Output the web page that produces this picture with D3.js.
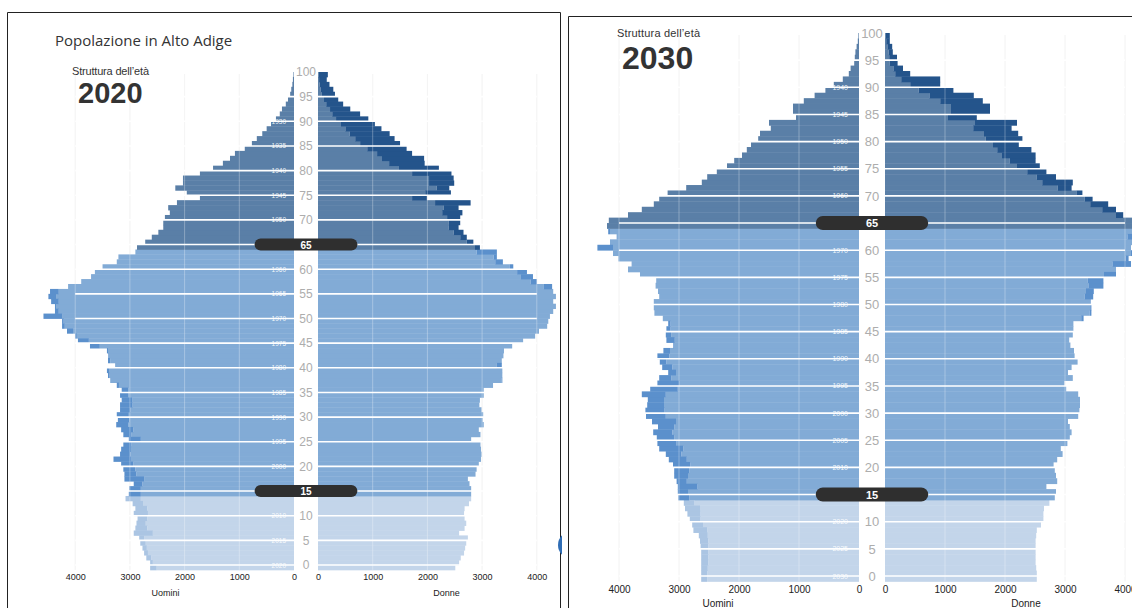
<!DOCTYPE html>
<html>
<head>
<meta charset="utf-8">
<script src="https://cdn.jsdelivr.net/npm/d3@7"></script>
<style>
  body { margin: 0; background: #fff; }
  svg { display: block; font-family: "Liberation Sans", Arial, sans-serif; }
</style>
</head>
<body>
<svg id="chart" width="1132" height="608"></svg>
<script>
// Ages 0..100, every array below is indexed by age
const AGES = d3.range(0, 101);

const MEN_2020 = [
  2630, 2630, 2700, 2740, 2770, 2810, 2830, 2930, 2900, 2880,
  2860, 2930, 2900, 2950, 3080, 3020, 3010, 2930, 3100, 3100,
  3120, 3160, 3300, 3180, 3160, 3120, 3020, 3120, 3160, 3250,
  3220, 3240, 3180, 3180, 3150, 3180, 3150, 3240, 3360, 3400,
  3420, 3270, 3400, 3400, 3420, 3730, 3950, 4000, 4150, 4240,
  4240, 4580, 4370, 4370, 4440, 4490, 4460, 4130, 3890, 3710,
  3640, 3500, 3240, 3210, 2900, 2870, 2720, 2600, 2480, 2390,
  2390, 2360, 2270, 2300, 2140, 1720, 1960, 2170, 2030, 2030,
  1720, 1480, 1300, 1170, 1080, 900, 770, 680, 580, 500,
  420, 330, 260, 220, 150, 110, 70, 50, 30, 20,
  10
];
const WOMEN_2020 = [
  2510, 2580, 2610, 2670, 2690, 2710, 2740, 2580, 2680, 2710,
  2680, 2670, 2680, 2760, 2800, 2800, 2800, 2770, 2740, 2880,
  2900, 2940, 2980, 2990, 2980, 2970, 2800, 2970, 2940, 3030,
  3010, 3020, 2990, 2950, 2960, 3030, 3030, 3200, 3370, 3370,
  3370, 3360, 3360, 3390, 3400, 3550, 3750, 3970, 4040, 4190,
  4210, 4240, 4300, 4350, 4300, 4350, 4300, 4280, 4000, 3930,
  3820, 3570, 3380, 3270, 3270, 2960, 2840, 2720, 2660, 2570,
  2600, 2600, 2640, 2570, 2790, 1990, 2430, 2400, 2490, 2480,
  2440, 2210, 1950, 1940, 1720, 1620, 1500, 1400, 1310, 1160,
  1040, 920, 770, 590, 460, 370, 310, 280, 210, 160,
  180
];
const MEN_2030 = [
  2630, 2630, 2630, 2630, 2630, 2630, 2640, 2650, 2670, 2760,
  2780, 2820, 2860, 2900, 2920, 3010, 3020, 3020, 3040, 3080,
  3080, 3100, 3170, 3220, 3330, 3360, 3370, 3430, 3350, 3450,
  3550, 3560, 3530, 3520, 3620, 3480, 3360, 3330, 3180, 3280,
  3320, 3360, 3260, 3100, 3210, 3220, 3210, 3180, 3270, 3410,
  3420, 3420, 3330, 3350, 3390, 3380, 3650, 3850, 3790, 4010,
  4100, 4360, 4150, 4040, 4180, 4200, 4170, 3850, 3620, 3420,
  3330, 3190, 2880, 2620, 2530, 2370, 2200, 2080, 1950, 1870,
  1800, 1680, 1650, 1470, 1500, 1050, 1100, 1100, 920, 740,
  560, 420, 270, 170, 140, 80, 70, 60, 40, 20,
  10
];
const WOMEN_2030 = [
  2530, 2530, 2520, 2510, 2510, 2510, 2510, 2510, 2520, 2530,
  2600, 2640, 2640, 2650, 2740, 2830, 2850, 2690, 2870, 2850,
  2830, 2810, 2870, 2960, 2930, 3040, 3080, 3110, 3080, 3050,
  3220, 3240, 3250, 3250, 3220, 3020, 2990, 3130, 3050, 3110,
  3210, 3160, 3150, 3090, 3070, 3130, 3140, 3140, 3310, 3440,
  3440, 3430, 3470, 3480, 3640, 3640, 3850, 3850, 4100, 4060,
  4120, 4100, 4150, 4120, 4150, 4300, 4250, 3970, 3850, 3720,
  3460, 3290, 3110, 3130, 2850, 2690, 2580, 2510, 2510, 2440,
  2230, 2290, 2220, 2110, 2200, 1530, 1750, 1750, 1630, 1480,
  1140, 920, 920, 420, 300, 210, 200, 130, 120, 80,
  80
];

const AGE_TICKS = d3.range(0, 101, 5);
const LINE_AGES = d3.range(0, 100, 5);
const VALUE_TICKS = [0, 1000, 2000, 3000, 4000];
const GRID_VALUES = [1000, 2000, 3000, 4000];
const GROUP_LIMITS = [15, 65];

// base colour and "surplus" colour for each age group
const COLORS = {
  old:   { base: '#5a7fa7', extra: '#24548b' },
  work:  { base: '#82abd6', extra: '#5b90cc' },
  young: { base: '#c3d5ea', extra: '#abc5e3' }
};
function groupColor(age) {
  if (age >= 65) return COLORS.old;
  if (age >= 15) return COLORS.work;
  return COLORS.young;
}

const svg = d3.select('#chart');

function drawPanel(p) {
  const g = svg.append('g');

  const xm = d3.scaleLinear().domain([0, 4000]).range([p.menZero, p.menZero - 4000 * p.unit]);
  const xw = d3.scaleLinear().domain([0, 4000]).range([p.womenZero, p.womenZero + 4000 * p.unit]);
  const y = d3.scaleLinear().domain([0, 100]).range([p.bottom, p.top]);
  const band = y(0) - y(1);
  const mid = (p.menZero + p.womenZero) / 2;

  // faint background grid
  [xm, xw].forEach(sc => {
    g.selectAll(null).data(GRID_VALUES).join('line')
      .attr('x1', d => sc(d)).attr('x2', d => sc(d))
      .attr('y1', y(100) + 2).attr('y2', y(-1))
      .attr('stroke', '#f0f0f0').attr('stroke-width', 1);
  });

  const rows = AGES.map(a => ({ age: a, m: p.men[a], w: p.women[a] }));

  // bars: common part in base colour, surplus over the other sex darker
  const sides = [
    { sc: xm, own: d => d.m, other: d => d.w },
    { sc: xw, own: d => d.w, other: d => d.m }
  ];
  sides.forEach(s => {
    g.selectAll(null).data(rows).join('rect')
      .attr('x', d => Math.min(s.sc(0), s.sc(Math.min(s.own(d), s.other(d)))))
      .attr('width', d => Math.abs(s.sc(Math.min(s.own(d), s.other(d))) - s.sc(0)))
      .attr('y', d => y(d.age))
      .attr('height', band + 0.4)
      .attr('fill', d => groupColor(d.age).base);
    g.selectAll(null).data(rows.filter(d => s.own(d) > s.other(d))).join('rect')
      .attr('x', d => Math.min(s.sc(s.other(d)), s.sc(s.own(d))))
      .attr('width', d => Math.abs(s.sc(s.own(d)) - s.sc(s.other(d))))
      .attr('y', d => y(d.age))
      .attr('height', band + 0.4)
      .attr('fill', d => groupColor(d.age).extra);
  });

  // white separators every 5 years
  g.selectAll(null).data(LINE_AGES).join('line')
    .attr('x1', xm(4000)).attr('x2', xw(4000))
    .attr('y1', d => y(d)).attr('y2', d => y(d))
    .attr('stroke', '#fff').attr('stroke-width', 1.6);

  // grid over the bars
  [xm, xw].forEach(sc => {
    g.selectAll(null).data(GRID_VALUES).join('line')
      .attr('x1', d => sc(d)).attr('x2', d => sc(d))
      .attr('y1', y(100) + 2).attr('y2', y(-1))
      .attr('stroke', '#fff').attr('stroke-opacity', 0.3).attr('stroke-width', 1);
  });

  // central white column
  g.append('rect')
    .attr('x', p.menZero).attr('width', p.womenZero - p.menZero)
    .attr('y', y(100) - 10).attr('height', y(-1) - y(100) + 12)
    .attr('fill', '#fff');

  // birth year labels
  g.selectAll(null).data(AGE_TICKS).join('text')
    .attr('x', p.menZero - p.yearGap)
    .attr('y', d => y(d) + 2.5)
    .attr('text-anchor', 'end')
    .attr('fill', '#fff')
    .attr('fill-opacity', 0.9)
    .style('font-size', p.yearFont + 'px')
    .text(d => p.year - d);

  // age labels
  g.selectAll(null).data(AGE_TICKS).join('text')
    .attr('x', mid)
    .attr('y', d => y(d) + p.ageFont * 0.36)
    .attr('text-anchor', 'middle')
    .attr('fill', '#adadad')
    .style('font-size', p.ageFont + 'px')
    .text(d => d);

  // group pills
  GROUP_LIMITS.forEach(a => {
    g.append('rect')
      .attr('x', xm(720)).attr('width', xw(720) - xm(720))
      .attr('y', y(a) - p.pillH / 2).attr('height', p.pillH)
      .attr('rx', p.pillH / 2).attr('fill', '#2f2f2f');
    g.append('text')
      .attr('x', mid).attr('y', y(a) + 4)
      .attr('text-anchor', 'middle')
      .attr('fill', '#fff').attr('font-weight', 'bold')
      .style('font-size', p.pillFont + 'px')
      .text(a);
  });

  // value axes
  [xm, xw].forEach(sc => {
    g.append('g')
      .attr('transform', `translate(0,${p.tickY})`)
      .call(d3.axisBottom(sc).tickValues(VALUE_TICKS).tickFormat(d3.format('d')).tickSize(0).tickPadding(0))
      .call(ax => ax.select('.domain').remove())
      .selectAll('text')
      .attr('fill', '#222')
      .style('font-family', '"Liberation Sans", Arial, sans-serif')
      .style('font-size', p.tickFont + 'px');
  });

  g.append('text').attr('x', xm(2350)).attr('y', p.sexY)
    .attr('text-anchor', 'middle').attr('fill', '#222')
    .style('font-size', p.tickFont + 'px').text('Uomini');
  g.append('text').attr('x', xw(2350)).attr('y', p.sexY)
    .attr('text-anchor', 'middle').attr('fill', '#222')
    .style('font-size', p.tickFont + 'px').text('Donne');

  // header
  g.append('text').attr('x', p.subX).attr('y', p.subY)
    .attr('fill', '#333').style('font-size', '11px')
    .attr('textLength', p.subLen).text('Struttura dell\u2019et\u00e0');
  g.append('text').attr('x', p.yearX).attr('y', p.yearY)
    .attr('fill', '#333').attr('font-weight', 'bold')
    .style('font-size', p.bigFont + 'px').text(p.year);
}

// frames
svg.append('path').attr('d', 'M7.5,608 V12.5 H560.5 V608')
  .attr('fill', 'none').attr('stroke', '#222').attr('stroke-width', 1);
svg.append('path').attr('d', 'M568.5,608 V16.5 H1132')
  .attr('fill', 'none').attr('stroke', '#222').attr('stroke-width', 1);

svg.append('text')
  .attr('x', 55).attr('y', 46)
  .attr('fill', '#333')
  .style('font-family', '"Open Sans", sans-serif')
  .style('font-size', '15px')
  .text('Popolazione in Alto Adige');

drawPanel({
  year: 2020, men: MEN_2020, women: WOMEN_2020,
  menZero: 294, womenZero: 318, unit: 0.0547,
  top: 72, bottom: 565,
  yearGap: 8, yearFont: 6.5, ageFont: 12, pillH: 12, pillFont: 10,
  tickY: 574, tickFont: 9, sexY: 596,
  subX: 72, subY: 75, subLen: 77, yearX: 78, yearY: 103, bigFont: 29
});

drawPanel({
  year: 2030, men: MEN_2030, women: WOMEN_2030,
  menZero: 859, womenZero: 885, unit: 0.06,
  top: 33, bottom: 576,
  yearGap: 11, yearFont: 7, ageFont: 13, pillH: 14, pillFont: 11,
  tickY: 586, tickFont: 10, sexY: 607,
  subX: 617, subY: 37, subLen: 83, yearX: 622, yearY: 69, bigFont: 32
});

// clipped blue button at the edge of the first frame
svg.append('clipPath').attr('id', 'edge')
  .append('rect').attr('x', 540).attr('y', 520).attr('width', 22).attr('height', 50);
svg.append('circle').attr('cx', 572).attr('cy', 545).attr('r', 14)
  .attr('fill', '#2f6db5').attr('clip-path', 'url(#edge)');
</script>
</body>
</html>
